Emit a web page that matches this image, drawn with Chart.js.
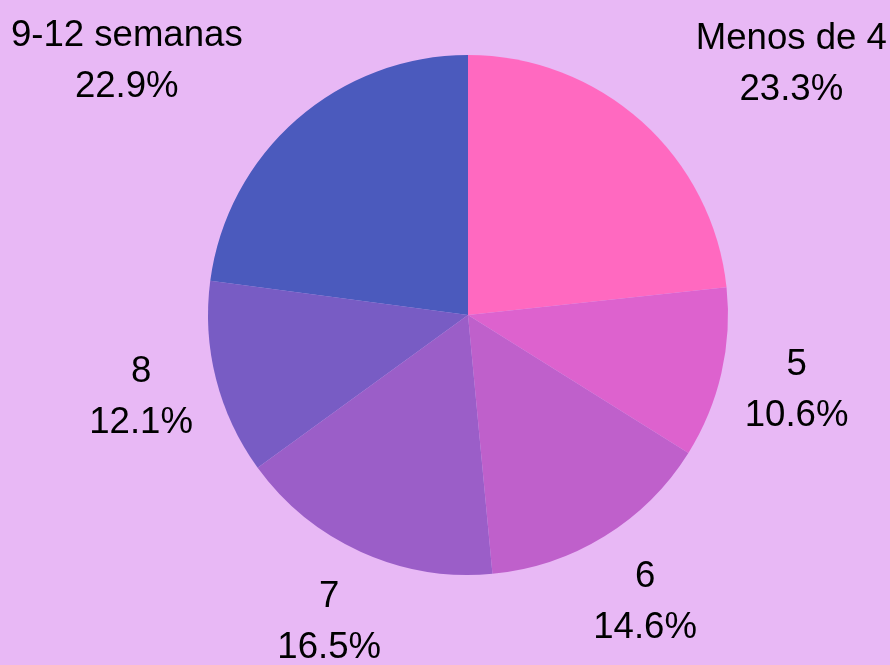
<!DOCTYPE html>
<html>
<head>
<meta charset="utf-8">
<script src="https://cdn.jsdelivr.net/npm/chart.js@4.4.0/dist/chart.umd.min.js"></script>
<style>
  html, body { margin: 0; padding: 0; background: #e8b8f5; }
  #wrap { width: 890px; height: 665px; }
</style>
</head>
<body>
<div id="wrap"><canvas id="pie"></canvas></div>
<script>
// slice data
const labels = ["Menos de 4", "5", "6", "7", "8", "9-12 semanas"];
const shares = [23.3, 10.6, 14.6, 16.5, 12.1, 22.9];
const colors = ["#ff69c0", "#dd62ce", "#bf60cb", "#9b5ec8", "#785cc4", "#4b5abd"];

// horizontal nudge for labels near the top edge
const labelNudge = [98, 0, 0, 0, 0, -119];

const outsideLabels = {
  id: "outsideLabels",
  afterDraw(chart) {
    const ctx = chart.ctx;
    const arcs = chart.getDatasetMeta(0).data;
    ctx.save();
    ctx.font = "36.6px 'Liberation Sans', Arial, sans-serif";
    ctx.fillStyle = "#000";
    ctx.textAlign = "center";
    ctx.textBaseline = "middle";
    arcs.forEach((arc, i) => {
      const { x, y, startAngle, endAngle, outerRadius } = arc.getProps(["x", "y", "startAngle", "endAngle", "outerRadius"], true);
      const mid = (startAngle + endAngle) / 2;
      const r = outerRadius * 1.297;
      const lx = x + Math.cos(mid) * r + labelNudge[i];
      const ly = y + Math.sin(mid) * r;
      ctx.fillText(labels[i], lx, ly - 25.5);
      ctx.fillText(shares[i].toFixed(1) + "%", lx, ly + 25.5);
    });
    ctx.restore();
  }
};

new Chart(document.getElementById("pie"), {
  type: "pie",
  data: {
    labels: labels,
    datasets: [{
      data: shares,
      backgroundColor: colors,
      borderWidth: 0
    }]
  },
  options: {
    responsive: true,
    maintainAspectRatio: false,
    animation: false,
    layout: { padding: { left: 208, right: 162, top: 55, bottom: 90 } },
    plugins: {
      legend: { display: false },
      tooltip: { enabled: false }
    }
  },
  plugins: [outsideLabels]
});
</script>
</body>
</html>
